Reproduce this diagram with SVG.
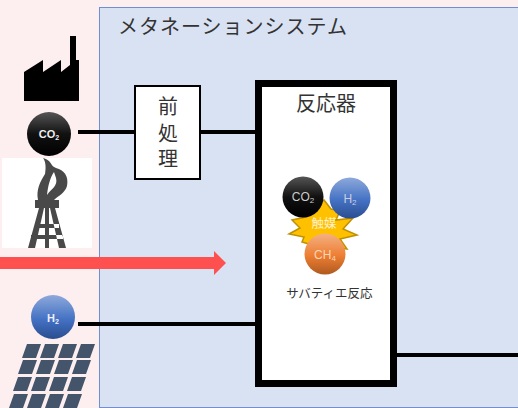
<svg xmlns="http://www.w3.org/2000/svg" width="518" height="408" viewBox="0 0 518 408">
<style>
.t{font-family:"Noto Sans CJK JP","Noto Sans",sans-serif;fill:#333}
.l{font-family:"Liberation Sans",Arial,sans-serif;text-anchor:middle}
.w{stroke:#000;stroke-width:4;fill:none}
</style>
<defs>
<linearGradient id="k" x1="0" y1="0" x2="0" y2="1"><stop offset="0" stop-color="#555"/><stop offset=".5" stop-color="#111"/><stop offset="1" stop-color="#000"/></linearGradient>
<linearGradient id="b" x1="0" y1="0" x2="0" y2="1"><stop offset="0" stop-color="#8ea9db"/><stop offset=".55" stop-color="#4472c4"/><stop offset="1" stop-color="#2a4d8f"/></linearGradient>
<linearGradient id="o" x1="0" y1="0" x2="0" y2="1"><stop offset="0" stop-color="#f4b183"/><stop offset=".55" stop-color="#ed7d31"/><stop offset="1" stop-color="#ae5a21"/></linearGradient>
</defs>
<rect width="518" height="408" fill="#fdeef0"/>
<g id="system"><rect x="99.500" y="7.500" width="430" height="400" fill="#d9e2f3" stroke="#6f8fd0" stroke-width="1"/>
<text class="t" x="118" y="34" font-size="20" textLength="229">メタネーションシステム</text></g>
<g id="connectors">
<path class="w" d="M78 132H135M200 132H257M78 324H257M396 355H518"/>
<rect x="0" y="257" width="215" height="12" fill="#ff5050"/>
<path d="M214 251L226 263L214 275Z" fill="#ff5050"/>
</g>
<g id="factory"><path d="M24 101V72L43 60V72L61 60V72L70 65V36H76V60L79 60V101Z" fill="#000"/></g>
<g id="co2-source"><circle cx="49" cy="134" r="22" fill="url(#k)"/>
<text class="l" x="49" y="138" font-size="11" font-weight="bold" fill="#eee">CO<tspan font-size="7" dy="2">2</tspan></text></g>
<g id="flare"><rect x="2" y="158" width="90" height="90" fill="#fff"/>
<path d="M43 158C52 160 50 166 56 168C64 170 69 176 67 186C65 193 58 196 54 200H38C36 190 40 182 45 174C46 168 46 162 43 158ZM54 172C50 178 48 186 47 195C52 188 58 186 56 178Z" fill="#494949" fill-rule="evenodd"/>
<rect x="35" y="200" width="24" height="8" fill="#494949"/>
<path d="M28 248L39 208H44L35 248ZM66 248L55 208H50L59 248ZM45 208H49V248H45ZM35 224H59V228H35ZM31 235H63V239H31Z" fill="#494949"/></g>
<g id="h2-source"><circle cx="53" cy="317" r="22" fill="url(#b)"/>
<text class="l" x="53" y="322" font-size="11" font-weight="bold" fill="#eef">H<tspan font-size="7" dy="2">2</tspan></text></g>
<g id="solar" fill="#44546a"><path d="M27 344H41L36 358H22ZM45 344H59L54 358H40ZM63 344H77L72 358H58ZM81 344H95L90 358H76Z"/>
<path d="M23 360H37L32 374H18ZM41 360H55L50 374H36ZM59 360H73L68 374H54ZM77 360H91L86 374H72Z"/>
<path d="M18 377H32L27 391H13ZM36 377H50L45 391H31ZM54 377H68L63 391H49ZM72 377H86L81 391H67Z"/>
<path d="M14 394H28L23 408H9ZM32 394H46L41 408H27ZM50 394H64L59 408H45ZM68 394H82L77 408H63Z"/></g>
<g id="pretreatment"><rect x="135" y="86" width="65" height="93" fill="#fff" stroke="#000" stroke-width="2"/>
<text class="t" font-size="20" text-anchor="middle"><tspan x="168" y="114">前</tspan><tspan x="168" y="141">処</tspan><tspan x="168" y="166">理</tspan></text></g>
<g id="reactor"><rect x="258.500" y="83.500" width="135" height="300" fill="#fff" stroke="#000" stroke-width="7"/>
<text class="t" x="326" y="111" font-size="20" text-anchor="middle">反応器</text>
<path d="M324 200L331 209L340 211L336 220L353 218L343 229L357 235L340 239L347 249L325 246L312 245L302 242L304 237L289 234L300 228L292 220L306 217L310 208Z" fill="#ffc000" stroke="#bf9000" stroke-width="1.500"/>
<text x="324" y="228" font-size="12.500" text-anchor="middle" font-family="Noto Sans CJK JP,sans-serif" fill="#fff2cc">触媒</text>
<circle cx="303" cy="197" r="20.500" fill="url(#k)"/>
<text class="l" x="303" y="201" font-size="12" fill="#ccc">CO<tspan font-size="8" dy="2">2</tspan></text>
<circle cx="350" cy="198" r="20.500" fill="url(#b)"/>
<text class="l" x="350" y="203" font-size="12" fill="#ccd">H<tspan font-size="8" dy="2">2</tspan></text>
<circle cx="325" cy="254" r="20.500" fill="url(#o)"/>
<text class="l" x="325" y="259" font-size="12" fill="#fbd5b5">CH<tspan font-size="8" dy="2">4</tspan></text>
<text class="t" x="329.500" y="298" font-size="12.500" text-anchor="middle">サバティエ反応</text></g>
</svg>
